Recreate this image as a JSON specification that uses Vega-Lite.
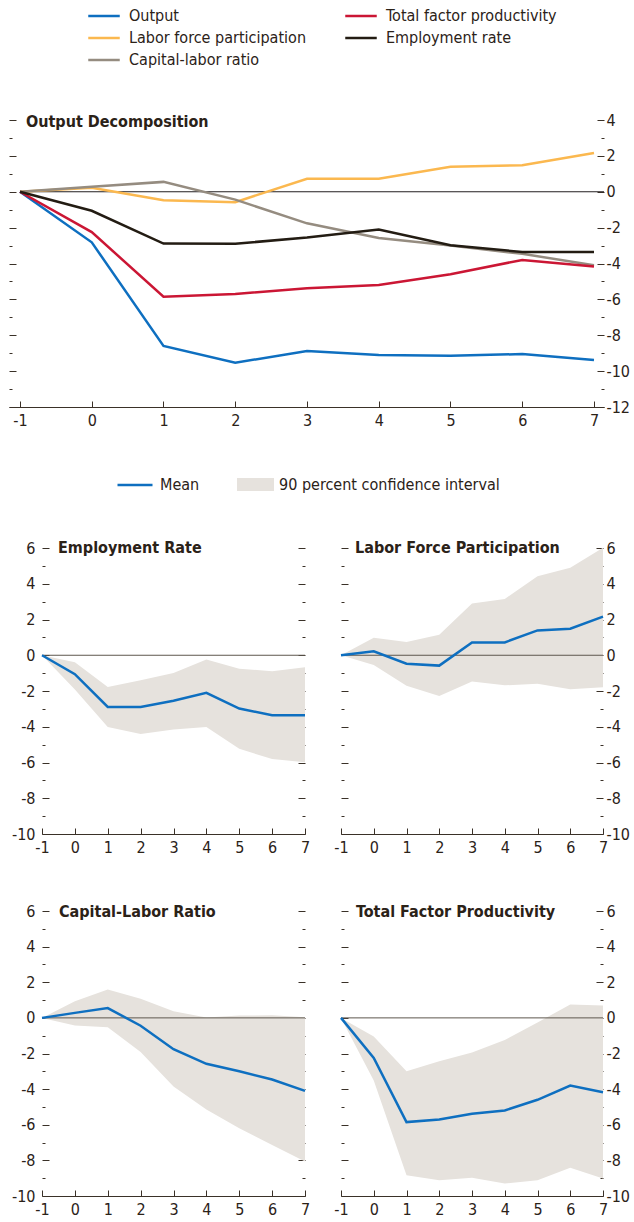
{
  "$schema": "https://vega.github.io/schema/vega-lite/v6.json",
  "padding": {"left": 8, "top": 0, "right": 0, "bottom": 0},
  "autosize": {"type": "pad"},
  "spacing": 26,
  "config": {
    "view": {"stroke": null},
    "font": "DejaVu Sans Condensed, Liberation Sans Narrow, Roboto, sans-serif",
    "axis": {"labelFont": "DejaVu Sans Condensed, Liberation Sans Narrow, Roboto, sans-serif", "labelFontSize": 16, "labelColor": "#2b2218", "tickColor": "#3a3128", "domainColor": "#3a3128", "grid": false, "labelOverlap": false, "labelFlush": false, "labelBound": false},
    "legend": {"labelFont": "DejaVu Sans Condensed, Liberation Sans Narrow, Roboto, sans-serif", "labelColor": "#2b2218", "padding": 0, "labelLimit": 400},
    "title": {"font": "DejaVu Sans Condensed, Liberation Sans Narrow, Roboto, sans-serif", "fontSize": 16, "fontWeight": "bold", "color": "#2b2218"}
  },
  "datasets": {
    "series": [
      {"s": "Output", "t": -1, "v": 0}, {"s": "Output", "t": 0, "v": -2.82}, {"s": "Output", "t": 1, "v": -8.6}, {"s": "Output", "t": 2, "v": -9.53}, {"s": "Output", "t": 3, "v": -8.88}, {"s": "Output", "t": 4, "v": -9.1}, {"s": "Output", "t": 5, "v": -9.14}, {"s": "Output", "t": 6, "v": -9.05}, {"s": "Output", "t": 7, "v": -9.38},
      {"s": "Labor force participation", "t": -1, "v": 0}, {"s": "Labor force participation", "t": 0, "v": 0.22}, {"s": "Labor force participation", "t": 1, "v": -0.47}, {"s": "Labor force participation", "t": 2, "v": -0.58}, {"s": "Labor force participation", "t": 3, "v": 0.72}, {"s": "Labor force participation", "t": 4, "v": 0.72}, {"s": "Labor force participation", "t": 5, "v": 1.39}, {"s": "Labor force participation", "t": 6, "v": 1.48}, {"s": "Labor force participation", "t": 7, "v": 2.16},
      {"s": "Capital-labor ratio", "t": -1, "v": 0}, {"s": "Capital-labor ratio", "t": 0, "v": 0.28}, {"s": "Capital-labor ratio", "t": 1, "v": 0.55}, {"s": "Capital-labor ratio", "t": 2, "v": -0.44}, {"s": "Capital-labor ratio", "t": 3, "v": -1.76}, {"s": "Capital-labor ratio", "t": 4, "v": -2.58}, {"s": "Capital-labor ratio", "t": 5, "v": -3.0}, {"s": "Capital-labor ratio", "t": 6, "v": -3.46}, {"s": "Capital-labor ratio", "t": 7, "v": -4.1},
      {"s": "Total factor productivity", "t": -1, "v": 0}, {"s": "Total factor productivity", "t": 0, "v": -2.25}, {"s": "Total factor productivity", "t": 1, "v": -5.85}, {"s": "Total factor productivity", "t": 2, "v": -5.7}, {"s": "Total factor productivity", "t": 3, "v": -5.38}, {"s": "Total factor productivity", "t": 4, "v": -5.2}, {"s": "Total factor productivity", "t": 5, "v": -4.6}, {"s": "Total factor productivity", "t": 6, "v": -3.8}, {"s": "Total factor productivity", "t": 7, "v": -4.17},
      {"s": "Employment rate", "t": -1, "v": 0}, {"s": "Employment rate", "t": 0, "v": -1.06}, {"s": "Employment rate", "t": 1, "v": -2.89}, {"s": "Employment rate", "t": 2, "v": -2.9}, {"s": "Employment rate", "t": 3, "v": -2.55}, {"s": "Employment rate", "t": 4, "v": -2.1}, {"s": "Employment rate", "t": 5, "v": -2.98}, {"s": "Employment rate", "t": 6, "v": -3.36}, {"s": "Employment rate", "t": 7, "v": -3.36}
    ],
    "bands": [
      {"p": "emp", "t": -1, "m": 0, "lo": 0, "hi": 0}, {"p": "emp", "t": 0, "m": -1.06, "lo": -1.92, "hi": -0.39}, {"p": "emp", "t": 1, "m": -2.89, "lo": -4.01, "hi": -1.77}, {"p": "emp", "t": 2, "m": -2.9, "lo": -4.41, "hi": -1.4}, {"p": "emp", "t": 3, "m": -2.55, "lo": -4.16, "hi": -0.99}, {"p": "emp", "t": 4, "m": -2.1, "lo": -4.01, "hi": -0.24}, {"p": "emp", "t": 5, "m": -2.98, "lo": -5.23, "hi": -0.75}, {"p": "emp", "t": 6, "m": -3.36, "lo": -5.81, "hi": -0.9}, {"p": "emp", "t": 7, "m": -3.36, "lo": -5.99, "hi": -0.67},
      {"p": "lfp", "t": -1, "m": 0, "lo": 0, "hi": 0}, {"p": "lfp", "t": 0, "m": 0.22, "lo": -0.55, "hi": 0.98}, {"p": "lfp", "t": 1, "m": -0.47, "lo": -1.7, "hi": 0.74}, {"p": "lfp", "t": 2, "m": -0.58, "lo": -2.28, "hi": 1.15}, {"p": "lfp", "t": 3, "m": 0.72, "lo": -1.47, "hi": 2.89}, {"p": "lfp", "t": 4, "m": 0.72, "lo": -1.68, "hi": 3.15}, {"p": "lfp", "t": 5, "m": 1.39, "lo": -1.6, "hi": 4.42}, {"p": "lfp", "t": 6, "m": 1.48, "lo": -1.9, "hi": 4.89}, {"p": "lfp", "t": 7, "m": 2.16, "lo": -1.79, "hi": 6.02},
      {"p": "klr", "t": -1, "m": 0, "lo": 0, "hi": 0}, {"p": "klr", "t": 0, "m": 0.28, "lo": -0.43, "hi": 0.94}, {"p": "klr", "t": 1, "m": 0.55, "lo": -0.52, "hi": 1.6}, {"p": "klr", "t": 2, "m": -0.44, "lo": -1.91, "hi": 1.07}, {"p": "klr", "t": 3, "m": -1.76, "lo": -3.85, "hi": 0.37}, {"p": "klr", "t": 4, "m": -2.58, "lo": -5.15, "hi": 0.02}, {"p": "klr", "t": 5, "m": -3.0, "lo": -6.2, "hi": 0.13}, {"p": "klr", "t": 6, "m": -3.46, "lo": -7.13, "hi": 0.15}, {"p": "klr", "t": 7, "m": -4.1, "lo": -8.07, "hi": 0.04},
      {"p": "tfp", "t": -1, "m": 0, "lo": 0, "hi": 0}, {"p": "tfp", "t": 0, "m": -2.25, "lo": -3.52, "hi": -1.05}, {"p": "tfp", "t": 1, "m": -5.85, "lo": -8.83, "hi": -2.99}, {"p": "tfp", "t": 2, "m": -5.7, "lo": -9.11, "hi": -2.43}, {"p": "tfp", "t": 3, "m": -5.38, "lo": -8.98, "hi": -1.94}, {"p": "tfp", "t": 4, "m": -5.2, "lo": -9.3, "hi": -1.24}, {"p": "tfp", "t": 5, "m": -4.6, "lo": -9.11, "hi": -0.26}, {"p": "tfp", "t": 6, "m": -3.8, "lo": -8.42, "hi": 0.75}, {"p": "tfp", "t": 7, "m": -4.17, "lo": -9.02, "hi": 0.7}
    ]
  },
  "vconcat": [
    {
      "width": 595,
      "height": 507,
      "title": {"text": "Output Decomposition", "anchor": "start", "frame": "group", "offset": -143, "dx": 17, "baseline": "alphabetic"},
      "layer": [
        {
          "data": {"values": [{}]},
          "mark": {"type": "rule", "color": "#231f20", "strokeWidth": 1},
          "encoding": {
            "x": {"datum": -1, "type": "quantitative", "scale": {"domain": [-1.1533, 7.1394], "nice": false, "zero": false},
              "axis": {"orient": "bottom", "offset": -100, "values": [-1, 0, 1, 2, 3, 4, 5, 6, 7], "title": null, "domain": true, "domainWidth": 1, "tickSize": -6, "labelPadding": 11, "labelOverlap": false, "labelExpr": "'' + datum.value"}},
            "x2": {"datum": 7.1394},
            "y": {"datum": 0, "type": "quantitative", "scale": {"domain": [-12, 4], "range": [407, 120], "nice": false, "zero": false},
              "axis": {"orient": "right", "values": [-12, -11, -10, -9, -8, -7, -6, -5, -4, -3, -2, -1, 0, 1, 2, 3, 4], "title": null, "domain": false, "tickSize": -7, "labelPadding": 9, "labelBaseline": "middle", "labelExpr": "datum.value % 2 === 0 ? '' + datum.value : ''", "tickDash": {"condition": {"test": "datum.value % 2 !== 0", "value": [3, 30]}, "value": []}}}
          }
        },
        {
          "data": {"name": "series"},
          "mark": {"type": "line", "strokeWidth": 2.5},
          "encoding": {
            "x": {"field": "t", "type": "quantitative", "scale": {"domain": [-1.1533, 7.1394], "nice": false, "zero": false}},
            "y": {"field": "v", "type": "quantitative", "scale": {"domain": [-12, 4], "range": [407, 120], "nice": false, "zero": false},
              "axis": {"orient": "left", "values": [-12, -11, -10, -9, -8, -7, -6, -5, -4, -3, -2, -1, 0, 1, 2, 3, 4], "title": null, "domain": false, "labels": false, "tickSize": -7, "tickDash": {"condition": {"test": "datum.value % 2 !== 0", "value": [3, 30]}, "value": []}}},
            "color": {"field": "s", "type": "nominal",
              "scale": {"domain": ["Output", "Total factor productivity", "Labor force participation", "Employment rate", "Capital-labor ratio"], "range": ["#0e6fc0", "#cb1634", "#fbb84f", "#231c13", "#958c80"]},
              "legend": {"orient": "none", "legendX": 83, "legendY": 4, "direction": "horizontal", "columns": 2, "columnPadding": 34, "rowPadding": 2, "symbolType": "M-1.5,0L1.5,0", "symbolSize": 441, "symbolStrokeWidth": 2.5, "labelOffset": 13, "labelFontSize": 16, "title": null}}
          }
        }
      ],
      "resolve": {"axis": {"y": "independent"}}
    },
    {
      "hconcat": [
        {
          "width": 296,
          "height": 337,
          "title": {"text": "Employment Rate", "anchor": "start", "frame": "group", "offset": -36, "dx": 49, "baseline": "alphabetic"},
          "data": {"name": "bands"},
          "transform": [{"filter": "datum.p === 'emp'"}],
          "layer": [
            {
              "mark": {"type": "area"},
              "encoding": {
                "x": {"field": "t", "type": "quantitative", "scale": {"domain": [-1, 7], "range": [33, 296], "nice": false, "zero": false},
                  "axis": {"orient": "bottom", "offset": -36, "values": [-1, 0, 1, 2, 3, 4, 5, 6, 7], "title": null, "domain": true, "tickSize": -6, "labelPadding": 11, "labelOverlap": false, "labelExpr": "'' + datum.value"}},
                "y": {"field": "lo", "type": "quantitative", "scale": {"domain": [-10, 6], "range": [301, 15], "nice": false, "zero": false},
                  "axis": {"orient": "left", "offset": -33, "values": [-10, -9, -8, -7, -6, -5, -4, -3, -2, -1, 0, 1, 2, 3, 4, 5, 6], "title": null, "domain": false, "tickSize": -7, "labelPadding": 14, "labelBaseline": "middle", "labelExpr": "datum.value % 2 === 0 ? '' + datum.value : ''", "tickDash": {"condition": {"test": "datum.value % 2 !== 0", "value": [3, 30]}, "value": []}}},
                "y2": {"field": "hi"},
                "fill": {"datum": "90 percent confidence interval", "type": "nominal", "scale": {"range": ["#e6e2dd"]},
                  "legend": {"orient": "none", "legendX": 228, "legendY": 466, "symbolType": "M-1,-0.35L1,-0.35L1,0.35L-1,0.35Z", "symbolSize": 1369, "symbolStrokeWidth": 0, "labelOffset": 5, "labelFontSize": 16, "title": null}}
              }
            },
            {
              "data": {"values": [{}]},
              "mark": {"type": "rule", "color": "#5e574e", "strokeWidth": 1},
              "encoding": {
                "x": {"datum": -1, "type": "quantitative", "axis": {"orient": "bottom", "offset": -36, "values": [-1, 0, 1, 2, 3, 4, 5, 6, 7], "title": null, "domain": true, "tickSize": -6, "labelPadding": 11, "labelOverlap": false, "labelExpr": "'' + datum.value"}},
                "x2": {"datum": 7}, "y": {"datum": 0, "type": "quantitative", "axis": null}}
            },
            {
              "mark": {"type": "line", "strokeWidth": 2.5},
              "encoding": {
                "x": {"field": "t", "type": "quantitative", "axis": {"orient": "bottom", "offset": -36, "values": [-1, 0, 1, 2, 3, 4, 5, 6, 7], "title": null, "domain": true, "tickSize": -6, "labelPadding": 11, "labelOverlap": false, "labelExpr": "'' + datum.value"}},
                "y": {"field": "m", "type": "quantitative",
                  "axis": {"orient": "right", "values": [-10, -9, -8, -7, -6, -5, -4, -3, -2, -1, 0, 1, 2, 3, 4, 5, 6], "title": null, "domain": false, "labels": false, "tickSize": -7, "tickDash": {"condition": {"test": "datum.value % 2 !== 0", "value": [3, 30]}, "value": []}}},
                "stroke": {"datum": "Mean", "type": "nominal", "scale": {"range": ["#0e6fc0"]},
                  "legend": {"orient": "none", "legendX": 107, "legendY": 466, "symbolType": "stroke", "symbolSize": 1225, "symbolStrokeWidth": 2.5, "labelOffset": 6, "labelFontSize": 16, "title": null}}
              }
            }
          ],
          "resolve": {"axis": {"y": "independent"}}
        },
        {
          "width": 262,
          "height": 337,
          "title": {"text": "Labor Force Participation", "anchor": "start", "frame": "group", "offset": -36, "dx": 14, "baseline": "alphabetic"},
          "data": {"name": "bands"},
          "transform": [{"filter": "datum.p === 'lfp'"}],
          "layer": [
            {
              "mark": {"type": "area"},
              "encoding": {
                "x": {"field": "t", "type": "quantitative", "scale": {"domain": [-1, 7], "nice": false, "zero": false},
                  "axis": {"orient": "bottom", "offset": -36, "values": [-1, 0, 1, 2, 3, 4, 5, 6, 7], "title": null, "domain": true, "tickSize": -6, "labelPadding": 11, "labelOverlap": false, "labelExpr": "'' + datum.value"}},
                "y": {"field": "lo", "type": "quantitative", "scale": {"domain": [-10, 6], "range": [301, 15], "nice": false, "zero": false},
                  "axis": {"orient": "left", "values": [-10, -9, -8, -7, -6, -5, -4, -3, -2, -1, 0, 1, 2, 3, 4, 5, 6], "title": null, "domain": false, "labels": false, "tickSize": -7, "tickDash": {"condition": {"test": "datum.value % 2 !== 0", "value": [3, 30]}, "value": []}}},
                "y2": {"field": "hi"},
                "fill": {"datum": "90 percent confidence interval", "type": "nominal", "scale": {"range": ["#e6e2dd"]},
                  "legend": {"orient": "none", "legendX": 228, "legendY": 466, "symbolType": "M-1,-0.35L1,-0.35L1,0.35L-1,0.35Z", "symbolSize": 1369, "symbolStrokeWidth": 0, "labelOffset": 5, "labelFontSize": 16, "title": null}}
              }
            },
            {
              "data": {"values": [{}]},
              "mark": {"type": "rule", "color": "#5e574e", "strokeWidth": 1},
              "encoding": {
                "x": {"datum": -1, "type": "quantitative", "axis": {"orient": "bottom", "offset": -36, "values": [-1, 0, 1, 2, 3, 4, 5, 6, 7], "title": null, "domain": true, "tickSize": -6, "labelPadding": 11, "labelOverlap": false, "labelExpr": "'' + datum.value"}},
                "x2": {"datum": 7}, "y": {"datum": 0, "type": "quantitative", "axis": null}}
            },
            {
              "mark": {"type": "line", "strokeWidth": 2.5},
              "encoding": {
                "x": {"field": "t", "type": "quantitative", "axis": {"orient": "bottom", "offset": -36, "values": [-1, 0, 1, 2, 3, 4, 5, 6, 7], "title": null, "domain": true, "tickSize": -6, "labelPadding": 11, "labelOverlap": false, "labelExpr": "'' + datum.value"}},
                "y": {"field": "m", "type": "quantitative",
                  "axis": {"orient": "right", "values": [-10, -9, -8, -7, -6, -5, -4, -3, -2, -1, 0, 1, 2, 3, 4, 5, 6], "title": null, "domain": false, "tickSize": -7, "labelPadding": 10, "labelBaseline": "middle", "labelExpr": "datum.value % 2 === 0 ? '' + datum.value : ''", "tickDash": {"condition": {"test": "datum.value % 2 !== 0", "value": [3, 30]}, "value": []}}},
                "stroke": {"datum": "Mean", "type": "nominal", "scale": {"range": ["#0e6fc0"]},
                  "legend": {"orient": "none", "legendX": 107, "legendY": 466, "symbolType": "stroke", "symbolSize": 1225, "symbolStrokeWidth": 2.5, "labelOffset": 6, "labelFontSize": 16, "title": null}}
              }
            }
          ],
          "resolve": {"axis": {"y": "independent"}}
        }
      ],
      "spacing": 36,
      "bounds": "flush"
    },
    {
      "hconcat": [
        {
          "width": 296,
          "height": 320,
          "title": {"text": "Capital-Labor Ratio", "anchor": "start", "frame": "group", "offset": -37, "dx": 50, "baseline": "alphabetic"},
          "data": {"name": "bands"},
          "transform": [{"filter": "datum.p === 'klr'"}],
          "layer": [
            {
              "mark": {"type": "area"},
              "encoding": {
                "x": {"field": "t", "type": "quantitative", "scale": {"domain": [-1, 7], "range": [33, 296], "nice": false, "zero": false},
                  "axis": {"orient": "bottom", "offset": -20, "values": [-1, 0, 1, 2, 3, 4, 5, 6, 7], "title": null, "domain": true, "tickSize": -6, "labelPadding": 11, "labelOverlap": false, "labelExpr": "'' + datum.value"}},
                "y": {"field": "lo", "type": "quantitative", "scale": {"domain": [-10, 6], "range": [300, 15], "nice": false, "zero": false},
                  "axis": {"orient": "left", "offset": -33, "values": [-10, -9, -8, -7, -6, -5, -4, -3, -2, -1, 0, 1, 2, 3, 4, 5, 6], "title": null, "domain": false, "tickSize": -7, "labelPadding": 14, "labelBaseline": "middle", "labelExpr": "datum.value % 2 === 0 ? '' + datum.value : ''", "tickDash": {"condition": {"test": "datum.value % 2 !== 0", "value": [3, 30]}, "value": []}}},
                "y2": {"field": "hi"},
                "fill": {"datum": "90 percent confidence interval", "type": "nominal", "scale": {"range": ["#e6e2dd"]},
                  "legend": {"orient": "none", "legendX": 228, "legendY": 466, "symbolType": "M-1,-0.35L1,-0.35L1,0.35L-1,0.35Z", "symbolSize": 1369, "symbolStrokeWidth": 0, "labelOffset": 5, "labelFontSize": 16, "title": null}}
              }
            },
            {
              "data": {"values": [{}]},
              "mark": {"type": "rule", "color": "#5e574e", "strokeWidth": 1},
              "encoding": {
                "x": {"datum": -1, "type": "quantitative", "axis": {"orient": "bottom", "offset": -20, "values": [-1, 0, 1, 2, 3, 4, 5, 6, 7], "title": null, "domain": true, "tickSize": -6, "labelPadding": 11, "labelOverlap": false, "labelExpr": "'' + datum.value"}},
                "x2": {"datum": 7}, "y": {"datum": 0, "type": "quantitative", "axis": null}}
            },
            {
              "mark": {"type": "line", "strokeWidth": 2.5},
              "encoding": {
                "x": {"field": "t", "type": "quantitative", "axis": {"orient": "bottom", "offset": -20, "values": [-1, 0, 1, 2, 3, 4, 5, 6, 7], "title": null, "domain": true, "tickSize": -6, "labelPadding": 11, "labelOverlap": false, "labelExpr": "'' + datum.value"}},
                "y": {"field": "m", "type": "quantitative",
                  "axis": {"orient": "right", "values": [-10, -9, -8, -7, -6, -5, -4, -3, -2, -1, 0, 1, 2, 3, 4, 5, 6], "title": null, "domain": false, "labels": false, "tickSize": -7, "tickDash": {"condition": {"test": "datum.value % 2 !== 0", "value": [3, 30]}, "value": []}}},
                "stroke": {"datum": "Mean", "type": "nominal", "scale": {"range": ["#0e6fc0"]},
                  "legend": {"orient": "none", "legendX": 107, "legendY": 466, "symbolType": "stroke", "symbolSize": 1225, "symbolStrokeWidth": 2.5, "labelOffset": 6, "labelFontSize": 16, "title": null}}
              }
            }
          ],
          "resolve": {"axis": {"y": "independent"}}
        },
        {
          "width": 262,
          "height": 320,
          "title": {"text": "Total Factor Productivity", "anchor": "start", "frame": "group", "offset": -37, "dx": 15, "baseline": "alphabetic"},
          "data": {"name": "bands"},
          "transform": [{"filter": "datum.p === 'tfp'"}],
          "layer": [
            {
              "mark": {"type": "area"},
              "encoding": {
                "x": {"field": "t", "type": "quantitative", "scale": {"domain": [-1, 7], "nice": false, "zero": false},
                  "axis": {"orient": "bottom", "offset": -20, "values": [-1, 0, 1, 2, 3, 4, 5, 6, 7], "title": null, "domain": true, "tickSize": -6, "labelPadding": 11, "labelOverlap": false, "labelExpr": "'' + datum.value"}},
                "y": {"field": "lo", "type": "quantitative", "scale": {"domain": [-10, 6], "range": [300, 15], "nice": false, "zero": false},
                  "axis": {"orient": "left", "values": [-10, -9, -8, -7, -6, -5, -4, -3, -2, -1, 0, 1, 2, 3, 4, 5, 6], "title": null, "domain": false, "labels": false, "tickSize": -7, "tickDash": {"condition": {"test": "datum.value % 2 !== 0", "value": [3, 30]}, "value": []}}},
                "y2": {"field": "hi"},
                "fill": {"datum": "90 percent confidence interval", "type": "nominal", "scale": {"range": ["#e6e2dd"]},
                  "legend": {"orient": "none", "legendX": 228, "legendY": 466, "symbolType": "M-1,-0.35L1,-0.35L1,0.35L-1,0.35Z", "symbolSize": 1369, "symbolStrokeWidth": 0, "labelOffset": 5, "labelFontSize": 16, "title": null}}
              }
            },
            {
              "data": {"values": [{}]},
              "mark": {"type": "rule", "color": "#5e574e", "strokeWidth": 1},
              "encoding": {
                "x": {"datum": -1, "type": "quantitative", "axis": {"orient": "bottom", "offset": -20, "values": [-1, 0, 1, 2, 3, 4, 5, 6, 7], "title": null, "domain": true, "tickSize": -6, "labelPadding": 11, "labelOverlap": false, "labelExpr": "'' + datum.value"}},
                "x2": {"datum": 7}, "y": {"datum": 0, "type": "quantitative", "axis": null}}
            },
            {
              "mark": {"type": "line", "strokeWidth": 2.5},
              "encoding": {
                "x": {"field": "t", "type": "quantitative", "axis": {"orient": "bottom", "offset": -20, "values": [-1, 0, 1, 2, 3, 4, 5, 6, 7], "title": null, "domain": true, "tickSize": -6, "labelPadding": 11, "labelOverlap": false, "labelExpr": "'' + datum.value"}},
                "y": {"field": "m", "type": "quantitative",
                  "axis": {"orient": "right", "values": [-10, -9, -8, -7, -6, -5, -4, -3, -2, -1, 0, 1, 2, 3, 4, 5, 6], "title": null, "domain": false, "tickSize": -7, "labelPadding": 10, "labelBaseline": "middle", "labelExpr": "datum.value % 2 === 0 ? '' + datum.value : ''", "tickDash": {"condition": {"test": "datum.value % 2 !== 0", "value": [3, 30]}, "value": []}}},
                "stroke": {"datum": "Mean", "type": "nominal", "scale": {"range": ["#0e6fc0"]},
                  "legend": {"orient": "none", "legendX": 107, "legendY": 466, "symbolType": "stroke", "symbolSize": 1225, "symbolStrokeWidth": 2.5, "labelOffset": 6, "labelFontSize": 16, "title": null}}
              }
            }
          ],
          "resolve": {"axis": {"y": "independent"}}
        }
      ],
      "spacing": 36,
      "bounds": "flush"
    }
  ]
}
